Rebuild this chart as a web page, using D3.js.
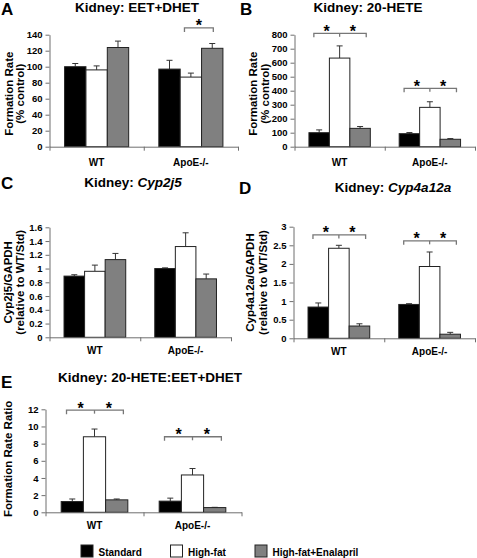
<!DOCTYPE html>
<html><head><meta charset="utf-8">
<script src="https://cdn.jsdelivr.net/npm/d3@7"></script>
<style>
body{margin:0;background:#fff}
svg{display:block}
text{font-family:"Liberation Sans",Arial,sans-serif;font-weight:bold;fill:#000}
</style>
</head><body><svg id="c" width="477" height="558"></svg>
<script>
// ---------- data ----------
const groups = ["WT", "ApoE-/-"];
const seriesNames = ["Standard", "High-fat", "High-fat+Enalapril"];
const seriesColors = ["#000000", "#ffffff", "#808080"];

// A: EET+DHET formation rate (% control)
const eetWT = [100, 96, 124],   eetWTErr = [4, 5, 8];
const eetApoE = [97, 87, 123],  eetApoEErr = [11, 5, 6];
const eetTicks = [0, 20, 40, 60, 80, 100, 120, 140];

// B: 20-HETE formation rate (% control)
const heteWT = [100, 633, 131],  heteWTErr = [20, 87, 13];
const heteApoE = [93, 281, 53],  heteApoEErr = [8, 40, 5];
const heteTicks = [0, 100, 200, 300, 400, 500, 600, 700, 800];

// C: Cyp2j5 / GAPDH
const cyp2j5WT = [0.89, 0.96, 1.13],   cyp2j5WTErr = [0.02, 0.09, 0.09];
const cyp2j5ApoE = [1.00, 1.32, 0.85], cyp2j5ApoEErr = [0.01, 0.20, 0.07];
const cyp2j5Ticks = [0, 0.2, 0.4, 0.6, 0.8, 1, 1.2, 1.4, 1.6];

// D: Cyp4a12a / GAPDH
const cyp4WT = [0.84, 2.42, 0.33],   cyp4WTErr = [0.11, 0.08, 0.06];
const cyp4ApoE = [0.91, 1.93, 0.11], cyp4ApoEErr = [0.02, 0.39, 0.05];
const cyp4Ticks = [0, 0.5, 1, 1.5, 2, 2.5, 3];

// E: 20-HETE : EET+DHET ratio
const ratioWT = [1.25, 8.8, 1.45],  ratioWTErr = [0.3, 0.9, 0.1];
const ratioApoE = [1.3, 4.35, 0.55], ratioApoEErr = [0.35, 0.75, 0.03];
const ratioTicks = [0, 2, 4, 6, 8, 10, 12];

// significance brackets: group, type (3 = std/hf/hfe, 2 = hf/hfe), level (data units)
const eetSig   = [{g: "ApoE-/-", type: 2, level: 148.5}];
const heteSig  = [{g: "WT", type: 3, level: 810}, {g: "ApoE-/-", type: 3, level: 417}];
const cyp4Sig  = [{g: "WT", type: 3, level: 2.78}, {g: "ApoE-/-", type: 3, level: 2.62}];
const ratioSig = [{g: "WT", type: 3, level: 11.9}, {g: "ApoE-/-", type: 3, level: 8.8}];

// ---------- drawing ----------
const svg = d3.select("#c");
const AXIS = "#6e6e6e";

function drawPanel(p) {
  const g = svg.append("g");
  const y = d3.scaleLinear().domain([0, d3.max(p.ticks)]).range([p.bottom, p.top]);
  const x0 = d3.scaleBand().domain(groups).range([p.left, p.right])
    .paddingInner(0.32).paddingOuter(0.16);
  const x1 = d3.scaleBand().domain(seriesNames).range([0, x0.bandwidth()]);
  const bw = x1.bandwidth();

  // bars + error bars
  groups.forEach((gn, gi) => {
    const vals = p.values[gi], errs = p.errors[gi];
    seriesNames.forEach((s, si) => {
      const bx = x0(gn) + x1(s);
      const cx = bx + bw / 2;
      const top = y(vals[si]), etop = y(vals[si] + errs[si]);
      g.append("line").attr("x1", cx).attr("x2", cx).attr("y1", top).attr("y2", etop)
        .attr("stroke", "#333").attr("stroke-width", 1);
      g.append("line").attr("x1", cx - 3).attr("x2", cx + 3).attr("y1", etop).attr("y2", etop)
        .attr("stroke", "#333").attr("stroke-width", 1);
      g.append("rect").attr("x", bx).attr("y", top).attr("width", bw)
        .attr("height", y(0) - top)
        .attr("fill", seriesColors[si]).attr("stroke", "#222").attr("stroke-width", 1);
    });
  });

  // y axis
  const fmt = v => String(+v.toFixed(2));
  const ya = g.append("g").attr("transform", `translate(${p.left},0)`)
    .call(d3.axisLeft(y).tickValues(p.ticks).tickFormat(fmt).tickSize(4).tickPadding(3).tickSizeOuter(0));
  ya.select(".domain").attr("stroke", AXIS);
  ya.selectAll(".tick line").attr("stroke", AXIS);
  ya.selectAll(".tick text").attr("font-size", 9.5).attr("font-family", null);

  // x axis
  const xb = d3.scaleLinear().domain([0, 2]).range([p.left, p.right]);
  const xa = g.append("g").attr("transform", `translate(0,${p.bottom})`)
    .call(d3.axisBottom(xb).tickValues([0, 1, 2]).tickFormat("").tickSize(4).tickSizeOuter(0));
  xa.select(".domain").attr("stroke", AXIS);
  xa.selectAll(".tick line").attr("stroke", AXIS);

  // x labels
  groups.forEach(gn => {
    g.append("text").attr("x", x0(gn) + x0.bandwidth() / 2).attr("y", p.bottom + p.xlabOff)
      .attr("text-anchor", "middle").attr("font-size", 10).text(gn);
  });

  // y label
  p.ylab.forEach((t, i) => {
    g.append("text")
      .attr("transform", `translate(${p.ylabX[i]},${(p.top + p.bottom) / 2 + p.ylabDy}) rotate(-90)`)
      .attr("text-anchor", "middle").attr("font-size", 11.5).text(t);
  });

  // letter + title
  g.append("text").attr("x", p.letterX).attr("y", p.letterY).attr("font-size", 17).text(p.letter);
  const tt = g.append("text").attr("x", p.titleX).attr("y", p.titleY)
    .attr("text-anchor", "middle").attr("font-size", p.titleSize || 13.5);
  p.title.forEach(part => {
    tt.append("tspan").attr("font-style", part.italic ? "italic" : "normal").text(part.t);
  });

  // significance brackets
  (p.sig || []).forEach(s => {
    const cxs = seriesNames.map(n => x0(s.g) + x1(n) + bw / 2);
    const ly = y(s.level);
    let xa1, xa2, mids = [];
    if (s.type === 3) { xa1 = cxs[0] - bw * 0.26; xa2 = cxs[2] + bw * 0.3; mids = [cxs[1]]; }
    else { xa1 = cxs[1] - bw * 0.3; xa2 = cxs[2] + bw * 0.05; }
    g.append("path").attr("d", `M${xa1},${ly + 4}V${ly}H${xa2}V${ly + 4}`)
      .attr("fill", "none").attr("stroke", "#777").attr("stroke-width", 1.3);
    mids.forEach(m => g.append("path").attr("d", `M${m},${ly}V${ly + 3.5}`)
      .attr("stroke", "#777").attr("stroke-width", 1.3));
    const pts = [xa1].concat(mids).concat([xa2]);
    for (let i = 0; i < pts.length - 1; i++) {
      g.append("text").attr("x", (pts[i] + pts[i + 1]) / 2).attr("y", ly + 3.5)
        .attr("text-anchor", "middle").attr("font-size", 16).text("*");
    }
  });
}

drawPanel({
  letter: "A", letterX: 1, letterY: 15,
  title: [{t: "Kidney: EET+DHET"}], titleX: 137, titleY: 12,
  ylab: ["Formation Rate", "(% control)"], ylabX: [12.5, 24], ylabDy: 3,
  left: 49.5, right: 238, top: 34.7, bottom: 146.7, xlabOff: 19,
  ticks: eetTicks, values: [eetWT, eetApoE], errors: [eetWTErr, eetApoEErr], sig: eetSig
});
drawPanel({
  letter: "B", letterX: 240, letterY: 15,
  title: [{t: "Kidney: 20-HETE"}], titleX: 368, titleY: 12,
  ylab: ["Formation Rate", "(% control)"], ylabX: [257, 268.5], ylabDy: 3,
  left: 294.5, right: 475, top: 34.7, bottom: 146.7, xlabOff: 19,
  ticks: heteTicks, values: [heteWT, heteApoE], errors: [heteWTErr, heteApoEErr], sig: heteSig
});
drawPanel({
  letter: "C", letterX: 1, letterY: 189,
  title: [{t: "Kidney: "}, {t: "Cyp2j5", italic: true}], titleX: 133, titleY: 187,
  ylab: ["Cyp2j5/GAPDH", "(relative to WT/Std)"], ylabX: [11.5, 23.5], ylabDy: 0,
  left: 49.5, right: 231, top: 227.3, bottom: 337.3, xlabOff: 17,
  ticks: cyp2j5Ticks, values: [cyp2j5WT, cyp2j5ApoE], errors: [cyp2j5WTErr, cyp2j5ApoEErr], sig: []
});
drawPanel({
  letter: "D", letterX: 239, letterY: 194,
  title: [{t: "Kidney: "}, {t: "Cyp4a12a", italic: true}], titleX: 393, titleY: 192,
  ylab: ["Cyp4a12a/GAPDH", "(relative to WT/Std)"], ylabX: [253.5, 267], ylabDy: 0,
  left: 293.5, right: 475, top: 226.7, bottom: 338.3, xlabOff: 17,
  ticks: cyp4Ticks, values: [cyp4WT, cyp4ApoE], errors: [cyp4WTErr, cyp4ApoEErr], sig: cyp4Sig
});
drawPanel({
  letter: "E", letterX: 1, letterY: 388,
  title: [{t: "Kidney: 20-HETE:EET+DHET"}], titleX: 150, titleY: 382,
  ylab: ["Formation Rate Ratio"], ylabX: [12], ylabDy: -2,
  left: 45.5, right: 241.5, top: 409.3, bottom: 512.3, xlabOff: 17,
  ticks: ratioTicks, values: [ratioWT, ratioApoE], errors: [ratioWTErr, ratioApoEErr], sig: ratioSig
});

// legend
const legX = [81, 170.5, 255];
const leg = svg.append("g");
seriesNames.forEach((s, i) => {
  leg.append("rect").attr("x", legX[i]).attr("y", 545).attr("width", 12).attr("height", 12)
    .attr("fill", seriesColors[i]).attr("stroke", "#222").attr("stroke-width", 1);
  leg.append("text").attr("x", legX[i] + 17.5).attr("y", 555.5).attr("font-size", 10).text(s);
});
</script>
</body></html>
